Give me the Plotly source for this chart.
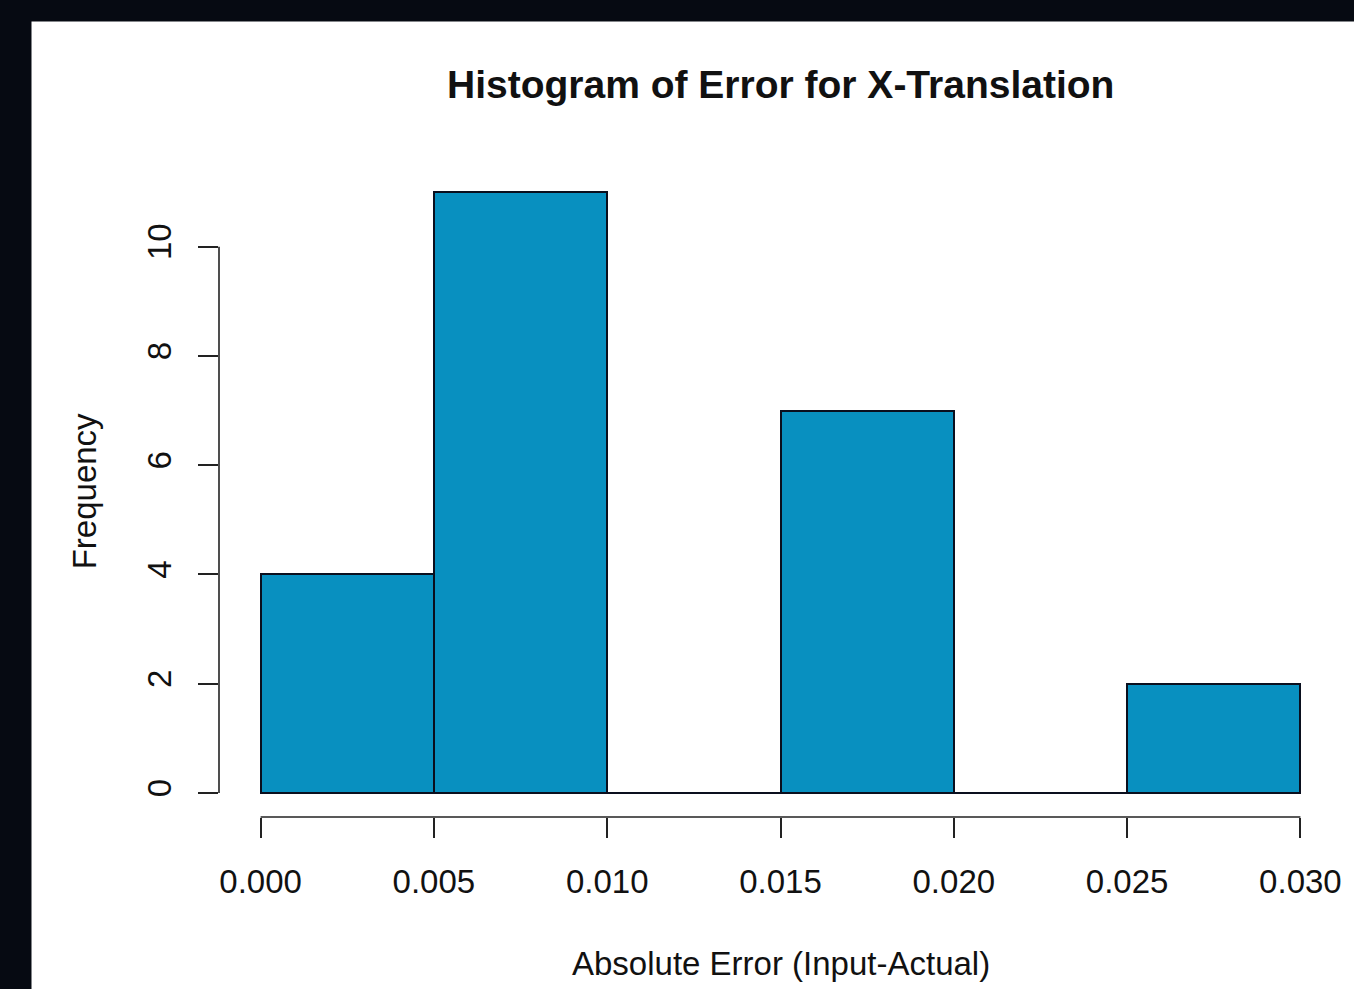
import plotly.graph_objects as go

# ---- data ----
bin_edges = [0.000, 0.005, 0.010, 0.015, 0.020, 0.025, 0.030]
counts = [4, 11, 0, 7, 0, 2]
x_ticks = [0.000, 0.005, 0.010, 0.015, 0.020, 0.025, 0.030]
y_ticks = [0, 2, 4, 6, 8, 10]
title_text = "Histogram of Error for X-Translation"
x_label = "Absolute Error (Input-Actual)"
y_label = "Frequency"

# ---- layout geometry (pixels) ----
W, H = 1354, 989
L, R, T, B = 219.4, 12.2, 168.4, 172
pw, ph = W - L - R, H - T - B

def px_x(p):
    return (p - L) / pw

def px_y(p):
    return (H - B - p) / ph

FONT = "Liberation Sans, Arial, Helvetica, sans-serif"
BAR_COLOR = "#0890c0"
DARK = "#060a12"

centers = [(bin_edges[i] + bin_edges[i + 1]) / 2 for i in range(len(counts))]
widths = [bin_edges[i + 1] - bin_edges[i] for i in range(len(counts))]

fig = go.Figure()
fig.add_trace(go.Bar(
    x=centers, y=counts, width=widths,
    marker=dict(color=BAR_COLOR, line=dict(color="#0a0f1e", width=2)),
    showlegend=False, hoverinfo="skip",
))

# zero-count bins are drawn as flat outlines at 0 (R style)
for i, c in enumerate(counts):
    if c == 0:
        fig.add_trace(go.Scatter(
            x=[bin_edges[i], bin_edges[i + 1]], y=[0, 0], mode="lines",
            line=dict(color="#0a0f1e", width=2), showlegend=False, hoverinfo="skip",
        ))

xr = [x_ticks[0] - 0.04 * (x_ticks[-1] - x_ticks[0]), x_ticks[-1] + 0.04 * (x_ticks[-1] - x_ticks[0])]
ymax = max(counts)
yr = [-0.04 * ymax, ymax * 1.04]

shapes = [
    # white panel over dark background
    dict(type="rect", xref="paper", yref="paper",
         x0=px_x(32), x1=px_x(W + 5), y0=px_y(22), y1=px_y(H + 5),
         fillcolor="white", line=dict(width=0), layer="below"),
    # R-style axis lines spanning tick range
    dict(type="line", xref="paper", yref="y", x0=0, x1=0, y0=y_ticks[0], y1=y_ticks[-1],
         line=dict(color="#222", width=1.6)),
    dict(type="line", xref="x", yref="paper", x0=x_ticks[0], x1=x_ticks[-1], y0=0, y1=0,
         line=dict(color="#222", width=1.6)),
]

annotations = [
    dict(text="<b>" + title_text + "</b>", xref="paper", yref="paper",
         x=0.5, y=px_y(85), xanchor="center", yanchor="middle", showarrow=False,
         font=dict(family=FONT, size=39, color="#111")),
    dict(text=x_label, xref="paper", yref="paper",
         x=0.5, y=px_y(963), xanchor="center", yanchor="middle", showarrow=False,
         font=dict(family=FONT, size=33, color="#111")),
    dict(text=y_label, xref="paper", yref="paper", textangle=-90,
         x=px_x(85), y=px_y(492), xanchor="center", yanchor="middle", showarrow=False,
         font=dict(family=FONT, size=33, color="#111")),
]

fig.update_layout(
    width=W, height=H,
    margin=dict(l=L, r=R, t=T, b=B, autoexpand=False),
    paper_bgcolor=DARK, plot_bgcolor="rgba(0,0,0,0)",
    shapes=shapes, annotations=annotations,
    xaxis=dict(range=xr, tickvals=x_ticks, tickformat=".3f", showgrid=False, zeroline=False,
               showline=False, ticks="outside", ticklen=20, tickwidth=1.6, tickcolor="#222",
               tickfont=dict(family=FONT, size=33, color="#111"), ticklabelstandoff=15),
    yaxis=dict(range=yr, tickvals=y_ticks, showgrid=False, zeroline=False,
               showline=False, ticks="outside", ticklen=20, tickwidth=1.6, tickcolor="#222",
               tickangle=-90,
               tickfont=dict(family=FONT, size=33, color="#111"), ticklabelstandoff=14),
    bargap=0,
)

fig.write_html(
    "out.html",
    config={"displayModeBar": False},
    post_script="document.body.style.margin='0';document.body.style.background='%s';"
                "document.body.style.overflow='hidden';" % DARK,
)
